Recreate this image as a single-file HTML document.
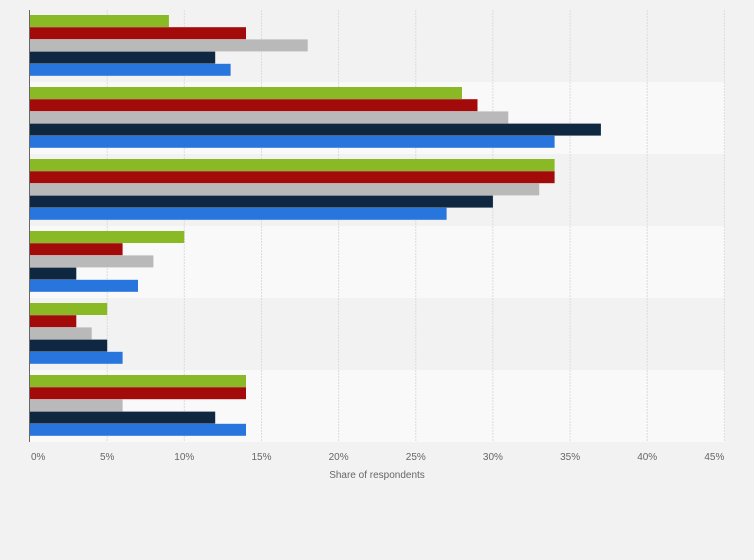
<!DOCTYPE html>
<html><head><meta charset="utf-8"><style>
html,body{margin:0;padding:0;background:#f2f2f2;}
svg{display:block;}
text{font-family:"Liberation Sans",Arial,sans-serif;fill:#666;font-size:10px;}
</style></head><body>
<svg width="754" height="560" viewBox="0 0 754 560" xmlns="http://www.w3.org/2000/svg">
<rect x="0" y="0" width="754" height="560" fill="#f2f2f2"/>
<!-- bands -->
<rect x="30" y="10" width="695" height="72" fill="#f2f2f2"/>
<rect x="30" y="82" width="695" height="72" fill="#f9f9f9"/>
<rect x="30" y="154" width="695" height="72" fill="#f2f2f2"/>
<rect x="30" y="226" width="695" height="72" fill="#f9f9f9"/>
<rect x="30" y="298" width="695" height="72" fill="#f2f2f2"/>
<rect x="30" y="370" width="695" height="72" fill="#f9f9f9"/>
<!-- gridlines -->
<g stroke="#dcdcdc" stroke-width="1" stroke-dasharray="2,1">
<line x1="107.2" y1="10" x2="107.2" y2="442"/>
<line x1="184.3" y1="10" x2="184.3" y2="442"/>
<line x1="261.5" y1="10" x2="261.5" y2="442"/>
<line x1="338.6" y1="10" x2="338.6" y2="442"/>
<line x1="415.8" y1="10" x2="415.8" y2="442"/>
<line x1="492.9" y1="10" x2="492.9" y2="442"/>
<line x1="570.1" y1="10" x2="570.1" y2="442"/>
<line x1="647.2" y1="10" x2="647.2" y2="442"/>
<line x1="724.4" y1="10" x2="724.4" y2="442"/>
</g>
<!-- bars: x=30, width = p*15.43 -->
<g>
<!-- group 1 -->
<rect x="30" y="15" width="138.9" height="12" fill="#8ab926"/>
<rect x="30" y="27.2" width="216" height="12" fill="#a30b0b"/>
<rect x="30" y="39.4" width="277.7" height="12" fill="#b9b9b9"/>
<rect x="30" y="51.6" width="185.2" height="12" fill="#0f2741"/>
<rect x="30" y="63.8" width="200.6" height="12" fill="#2876dd"/>
<!-- group 2 -->
<rect x="30" y="87" width="432" height="12" fill="#8ab926"/>
<rect x="30" y="99.2" width="447.5" height="12" fill="#a30b0b"/>
<rect x="30" y="111.4" width="478.3" height="12" fill="#b9b9b9"/>
<rect x="30" y="123.6" width="570.9" height="12" fill="#0f2741"/>
<rect x="30" y="135.8" width="524.6" height="12" fill="#2876dd"/>
<!-- group 3 -->
<rect x="30" y="159" width="524.6" height="12" fill="#8ab926"/>
<rect x="30" y="171.2" width="524.6" height="12" fill="#a30b0b"/>
<rect x="30" y="183.4" width="509.2" height="12" fill="#b9b9b9"/>
<rect x="30" y="195.6" width="462.9" height="12" fill="#0f2741"/>
<rect x="30" y="207.8" width="416.6" height="12" fill="#2876dd"/>
<!-- group 4 -->
<rect x="30" y="231" width="154.3" height="12" fill="#8ab926"/>
<rect x="30" y="243.2" width="92.6" height="12" fill="#a30b0b"/>
<rect x="30" y="255.4" width="123.4" height="12" fill="#b9b9b9"/>
<rect x="30" y="267.6" width="46.3" height="12" fill="#0f2741"/>
<rect x="30" y="279.8" width="108" height="12" fill="#2876dd"/>
<!-- group 5 -->
<rect x="30" y="303" width="77.2" height="12" fill="#8ab926"/>
<rect x="30" y="315.2" width="46.3" height="12" fill="#a30b0b"/>
<rect x="30" y="327.4" width="61.7" height="12" fill="#b9b9b9"/>
<rect x="30" y="339.6" width="77.2" height="12" fill="#0f2741"/>
<rect x="30" y="351.8" width="92.6" height="12" fill="#2876dd"/>
<!-- group 6 -->
<rect x="30" y="375" width="216" height="12" fill="#8ab926"/>
<rect x="30" y="387.2" width="216" height="12" fill="#a30b0b"/>
<rect x="30" y="399.4" width="92.6" height="12" fill="#b9b9b9"/>
<rect x="30" y="411.6" width="185.2" height="12" fill="#0f2741"/>
<rect x="30" y="423.8" width="216" height="12" fill="#2876dd"/>
</g>
<!-- axis line -->
<line x1="29.5" y1="10" x2="29.5" y2="442" stroke="#666" stroke-width="1"/>
<!-- tick labels -->
<g>
<text x="31" y="460" text-anchor="start">0%</text>
<text x="107.2" y="460" text-anchor="middle">5%</text>
<text x="184.3" y="460" text-anchor="middle">10%</text>
<text x="261.5" y="460" text-anchor="middle">15%</text>
<text x="338.6" y="460" text-anchor="middle">20%</text>
<text x="415.8" y="460" text-anchor="middle">25%</text>
<text x="492.9" y="460" text-anchor="middle">30%</text>
<text x="570.1" y="460" text-anchor="middle">35%</text>
<text x="647.2" y="460" text-anchor="middle">40%</text>
<text x="724.4" y="460" text-anchor="end">45%</text>
</g>
<text x="377" y="478" text-anchor="middle">Share of respondents</text>
</svg>
</body></html>
